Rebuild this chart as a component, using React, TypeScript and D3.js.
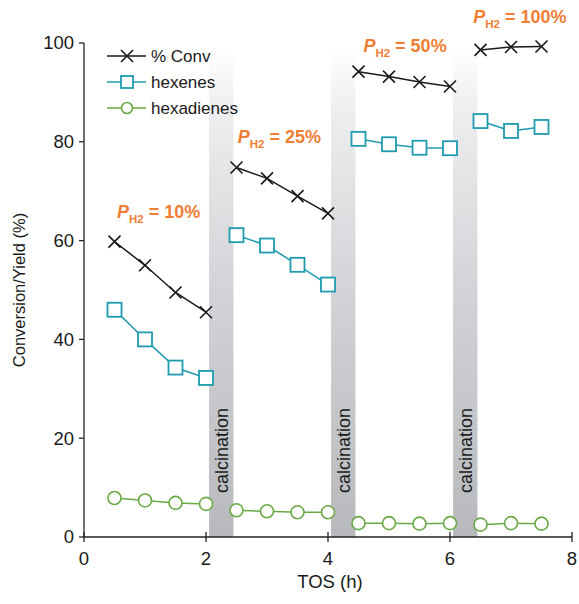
import React from "react";
import * as d3 from "d3";

const tos = [0.5, 1, 1.5, 2, 2.5, 3, 3.5, 4, 4.5, 5, 5.5, 6, 6.5, 7, 7.5];
const conv = [59.8, 55.0, 49.5, 45.5, 74.8, 72.6, 69.0, 65.5, 94.2, 93.2, 92.1, 91.2, 98.6, 99.2, 99.3];
const hexenes = [46.0, 40.0, 34.3, 32.2, 61.1, 59.0, 55.1, 51.1, 80.6, 79.5, 78.8, 78.7, 84.2, 82.2, 83.0];
const hexadienes = [7.9, 7.4, 6.9, 6.7, 5.4, 5.2, 5.0, 5.0, 2.8, 2.8, 2.7, 2.8, 2.5, 2.8, 2.7];
const segments = [[0, 4], [4, 8], [8, 12], [12, 15]];
const calcination = [[2.05, 2.45], [4.05, 4.45], [6.05, 6.45]];
const xTicks = [0, 2, 4, 6, 8];
const yTicks = [0, 20, 40, 60, 80, 100];
const annotations = [
  { x: 0.54, y: 64.6, label: "= 10%" },
  { x: 2.52, y: 79.8, label: "=  25%" },
  { x: 4.58, y: 98.2, label: "= 50%" },
  { x: 6.38, y: 104.1, label: "= 100%" },
];

const BLACK = "#1a1a1a";
const TEAL = "#1f9bb0";
const GREEN = "#6aa945";
const ORANGE = "#ef7e35";
const FONT = "Liberation Sans, Arial, sans-serif";

export default function App() {
  const x = d3.scaleLinear().domain([0, 8]).range([84, 572]);
  const y = d3.scaleLinear().domain([0, 100]).range([537, 43]);

  const seriesPath = (vals: number[]) =>
    segments
      .map(([a, b]) =>
        d3.line<number>()
          .x((i) => x(tos[i]))
          .y((i) => y(vals[i]))(d3.range(a, b)) as string
      )
      .join("");

  const cross = (cx: number, cy: number, key: string | number, s = 6) => (
    <path key={key} d={`M${cx - s},${cy - s}L${cx + s},${cy + s}M${cx - s},${cy + s}L${cx + s},${cy - s}`} stroke={BLACK} strokeWidth={1.6} fill="none" />
  );
  const square = (cx: number, cy: number, key: string | number, s = 7) => (
    <rect key={key} x={cx - s} y={cy - s} width={2 * s} height={2 * s} fill="white" stroke={TEAL} strokeWidth={1.8} />
  );
  const circle = (cx: number, cy: number, key: string | number, r = 6.5) => (
    <circle key={key} cx={cx} cy={cy} r={r} fill="white" stroke={GREEN} strokeWidth={1.6} />
  );

  return (
    <svg width={579} height={604} style={{ position: "absolute", left: 0, top: 0, display: "block" }} fontFamily={FONT}>
      <defs>
        <linearGradient id="band" x1="0" y1="0" x2="0" y2="1">
          <stop offset="0" stopColor="#ffffff" />
          <stop offset="0.12" stopColor="#eeeef0" />
          <stop offset="0.5" stopColor="#d2d3d6" />
          <stop offset="1" stopColor="#b7b9bd" />
        </linearGradient>
      </defs>
      {calcination.map(([a, b], i) => (
        <g key={i}>
          <rect x={x(a)} y={y(98.5)} width={x(b) - x(a)} height={y(0) - y(98.5)} fill="url(#band)" />
          <text
            transform={`translate(${(x(a) + x(b)) / 2 + 6.5},${y(17.5)}) rotate(-90)`}
            textAnchor="middle"
            fontSize={18}
            fill="#1a1a1a"
          >
            calcination
          </text>
        </g>
      ))}

      {/* axes */}
      <line x1={x(0)} x2={x(0)} y1={y(0)} y2={y(100)} stroke="#222" strokeWidth={1.3} />
      <line x1={x(0)} x2={x(8)} y1={y(0)} y2={y(0)} stroke="#222" strokeWidth={1.3} />
      {yTicks.map((t) => (
        <g key={t}>
          <line x1={x(0) - 5} x2={x(0)} y1={y(t)} y2={y(t)} stroke="#222" strokeWidth={1.3} />
          <text x={x(0) - 10} y={y(t)} dy="0.35em" textAnchor="end" fontSize={18.5} fill="#1a1a1a">{t}</text>
        </g>
      ))}
      {xTicks.map((t) => (
        <g key={t}>
          <line x1={x(t)} x2={x(t)} y1={y(0) - 5} y2={y(0) + 5} stroke="#222" strokeWidth={1.3} />
          <text x={x(t)} y={y(0) + 28} textAnchor="middle" fontSize={18.5} fill="#1a1a1a">{t}</text>
        </g>
      ))}
      <text x={330} y={588} textAnchor="middle" fontSize={18.5} fill="#1a1a1a">TOS (h)</text>
      <text transform={`translate(25,${y(50)}) rotate(-90)`} textAnchor="middle" fontSize={16.5} fill="#1a1a1a">Conversion/Yield (%)</text>

      {/* series */}
      <path d={seriesPath(conv)} stroke={BLACK} strokeWidth={1.5} fill="none" />
      <path d={seriesPath(hexenes)} stroke={TEAL} strokeWidth={1.5} fill="none" />
      <path d={seriesPath(hexadienes)} stroke={GREEN} strokeWidth={1.5} fill="none" />
      {tos.map((t, i) => cross(x(t), y(conv[i]), "c" + i))}
      {tos.map((t, i) => square(x(t), y(hexenes[i]), "s" + i))}
      {tos.map((t, i) => circle(x(t), y(hexadienes[i]), "o" + i))}

      {/* legend */}
      {[
        { label: "% Conv", color: BLACK, m: cross },
        { label: "hexenes", color: TEAL, m: square },
        { label: "hexadienes", color: GREEN, m: circle },
      ].map((d, i) => {
        const ly = 56 + i * 26;
        return (
          <g key={d.label}>
            <line x1={107} x2={146} y1={ly} y2={ly} stroke={d.color} strokeWidth={1.5} />
            {d.m(127, ly, "lm" + i, i === 0 ? 6 : i === 1 ? 6 : 5.5)}
            <text x={151} y={ly} dy="0.36em" fontSize={17} fill="#1a1a1a">{d.label}</text>
          </g>
        );
      })}

      {/* annotations */}
      {annotations.map((a, i) => (
        <text key={i} x={x(a.x)} y={y(a.y)} fontSize={18} fontWeight="bold" fill={ORANGE}>
          <tspan fontStyle="italic">P</tspan>
          <tspan fontSize={11.5} dy={5}>H2</tspan>
          <tspan dy={-5}>{" " + a.label}</tspan>
        </text>
      ))}
    </svg>
  );
}
